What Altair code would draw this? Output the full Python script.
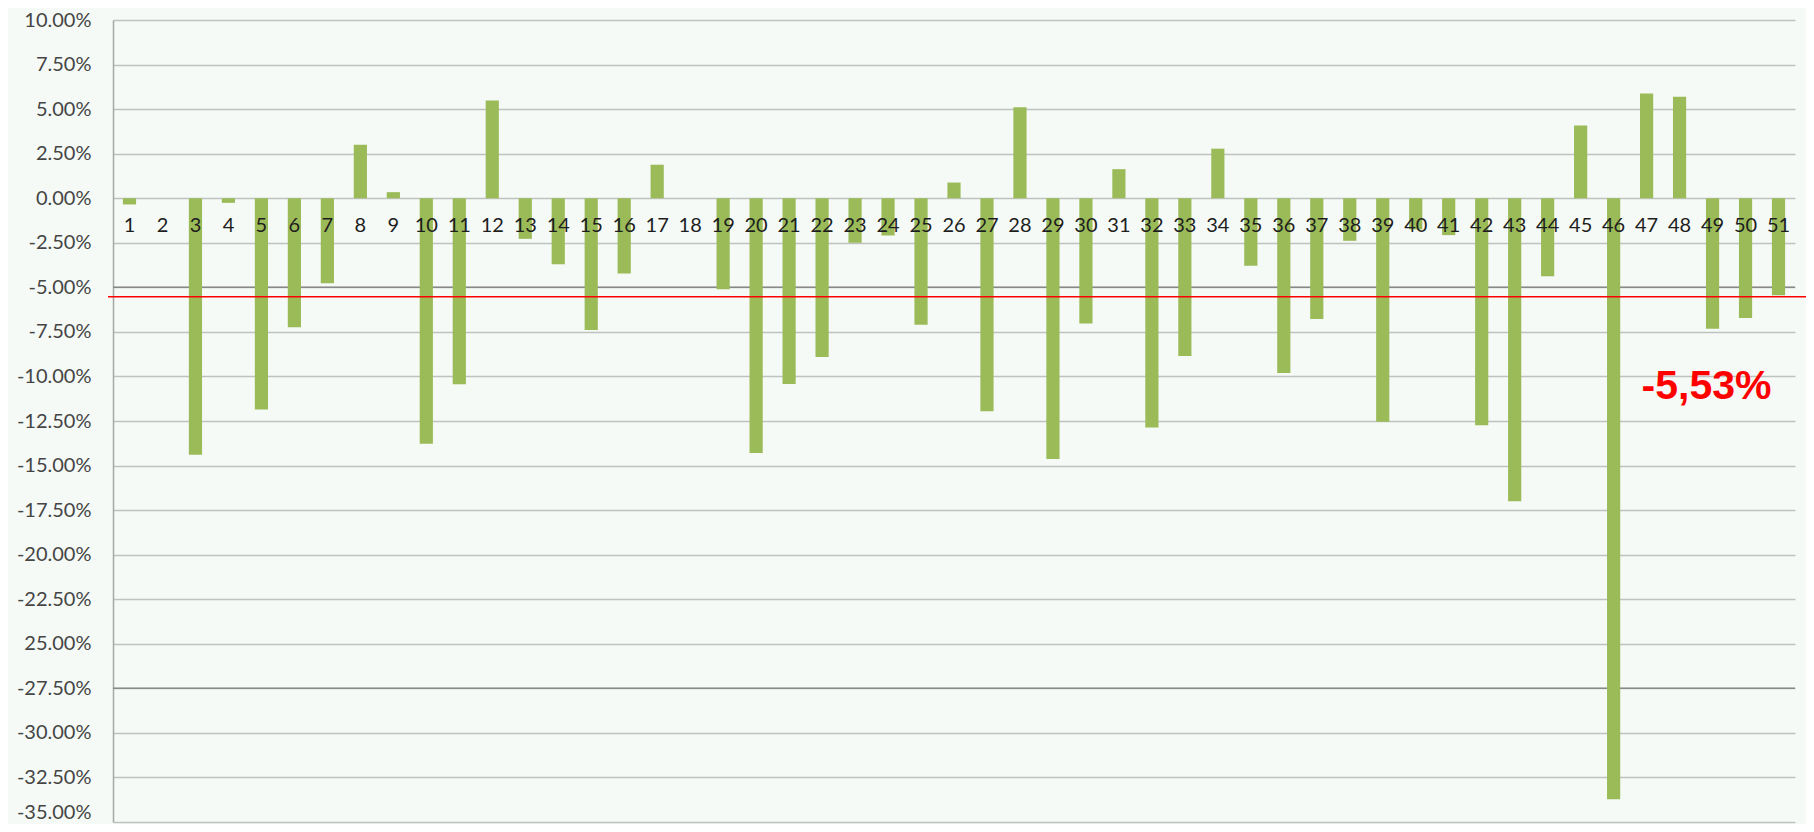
import altair as alt
import pandas as pd

# ---- data ----
categories = [str(i) for i in range(1, 52)]
values_pct = [-0.35, 0.0, -14.4, -0.26, -11.85, -7.24, -4.77, 3.0, 0.34, -13.78,
              -10.44, 5.48, -2.28, -3.71, -7.39, -4.23, 1.88, 0.0, -5.11, -14.3,
              -10.42, -8.91, -2.5, -2.09, -7.1, 0.88, -11.95, 5.1, -14.63, -7.03,
              1.63, -12.87, -8.85, 2.78, -3.79, -9.81, -6.77, -2.39, -12.54, -1.75,
              -2.07, -12.74, -17.0, -4.38, 4.08, -33.72, 5.88, 5.69, -7.32, -6.72,
              -5.44]
y_ticks = [0.10, 0.075, 0.05, 0.025, 0.0, -0.025, -0.05, -0.075, -0.10, -0.125,
           -0.15, -0.175, -0.20, -0.225, -0.25, -0.275, -0.30, -0.325, -0.35]
y_tick_labels = ["10.00%", "7.50%", "5.00%", "2.50%", "0.00%", "-2.50%", "-5.00%",
                 "-7.50%", "-10.00%", "-12.50%", "-15.00%", "-17.50%", "-20.00%",
                 "-22.50%", "25.00%", "-27.50%", "-30.00%", "-32.50%", "-35.00%"]
dark_grid = [-0.05, -0.275]
ref_value = -0.0553
ref_label = "-5,53%"
ref_label_cat = "49"
ref_label_y = -0.106

W, H = 1682, 802
SVG_W, SVG_H = 1798, 816
PAD_L, PAD_T = 105, 12
PAD_R = SVG_W - PAD_L - W
PAD_B = SVG_H - PAD_T - H

df = pd.DataFrame({"cat": categories, "val": [v / 100 for v in values_pct]})

label_expr = "".join(
    f"datum.value > {t - 0.001} && datum.value < {t + 0.001} ? '{l}' : "
    for t, l in zip(y_ticks, y_tick_labels)
) + "''"

xs = alt.X("cat:N", sort=categories, axis=None,
           scale=alt.Scale(paddingInner=0.6, paddingOuter=0.3))
yscale = alt.Scale(domain=[-0.35, 0.10], nice=False, zero=False)

base = alt.Chart(df)

bars = base.mark_bar(color="#9BBB59").encode(
    x=xs,
    y=alt.Y("val:Q", scale=yscale,
            axis=alt.Axis(values=y_ticks, labelExpr=label_expr, title=None,
                          grid=True, gridColor="#BFC3BF", gridWidth=1.5,
                          ticks=False, domain=True, domainColor="#A8A8A8",
                          domainWidth=1.5, labelFont="Lato", labelFontSize=20,
                          labelColor="#454545", labelPadding=22,
                          labelBaseline={"condition": {"test": "datum.value < -0.349",
                                                       "value": "bottom"},
                                         "value": "middle"})),
)

dark = alt.Chart(pd.DataFrame({"v": dark_grid})).mark_rule(
    color="#888888", strokeWidth=1.5
).encode(x=alt.value(0), x2=alt.value(W), y=alt.Y("v:Q", scale=yscale))

xlabels = base.mark_text(font="Lato", fontSize=20, color="#1E1E1E",
                         baseline="middle", dy=28).encode(
    x=xs, y=alt.datum(0), text="cat:N"
)

red_rule = alt.Chart(pd.DataFrame({"v": [ref_value]})).mark_rule(
    color="#FF0000", strokeWidth=1.5
).encode(x=alt.value(-5), x2=alt.value(W + PAD_R), y=alt.Y("v:Q", scale=yscale))

red_text = alt.Chart(pd.DataFrame({"cat": [ref_label_cat], "v": [ref_label_y],
                                   "t": [ref_label]})).mark_text(
    font="Liberation Sans", fontWeight="bold", fontSize=41,
    color="#FF0000", baseline="middle", align="center", dx=-6
).encode(x=xs, y=alt.Y("v:Q", scale=yscale), text="t:N")

chart = alt.layer(dark, bars, red_rule, xlabels, red_text).properties(
    width=W, height=H,
    autosize=alt.AutoSizeParams(type="none"),
    padding={"left": PAD_L, "top": PAD_T, "right": PAD_R, "bottom": PAD_B},
    background="#F5FAF6",
).configure_view(stroke=None)

chart.save("out.html", embed_options={"renderer": "svg", "actions": False})
